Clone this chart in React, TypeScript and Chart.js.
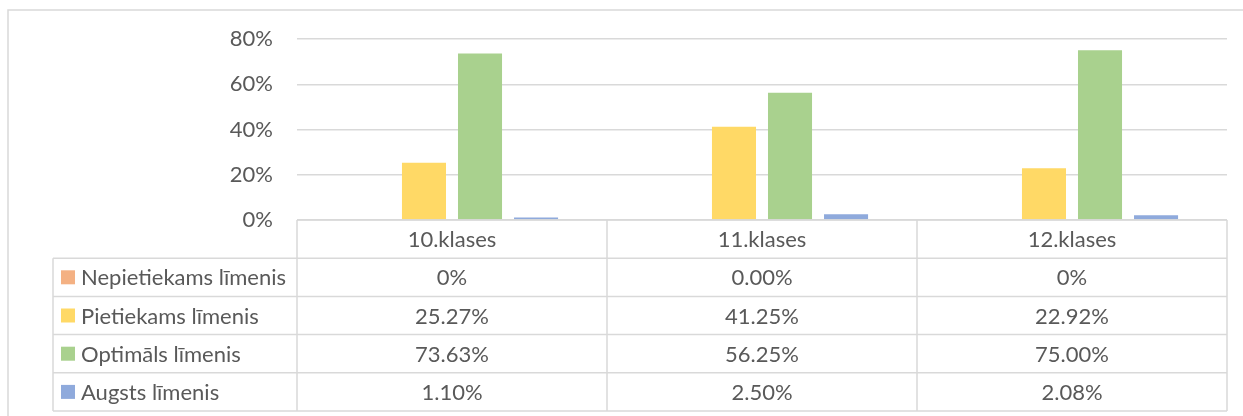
import React, { useEffect, useRef } from "react";
import { Chart, registerables } from "chart.js";

Chart.register(...registerables);

const categories = ["10.klases", "11.klases", "12.klases"];
const seriesNames = [
  "Nepietiekams līmenis",
  "Pietiekams līmenis",
  "Optimāls līmenis",
  "Augsts līmenis",
];
const seriesColors = ["#F4B183", "#FFD966", "#A9D18E", "#8FAADC"];

const nepietiekams = [0, 0, 0];
const pietiekams = [25.27, 41.25, 22.92];
const optimals = [73.63, 56.25, 75.0];
const augsts = [1.1, 2.5, 2.08];

const nepietiekamsLabels = ["0%", "0.00%", "0%"];
const pietiekamsLabels = ["25.27%", "41.25%", "22.92%"];
const optimalsLabels = ["73.63%", "56.25%", "75.00%"];
const augstsLabels = ["1.10%", "2.50%", "2.08%"];

const yTicks = [0, 20, 40, 60, 80];

const FONT_FAMILY = "Lato, 'Open Sans', sans-serif";
const FONT_SIZE = 22;
const TEXT_COLOR = "#595959";
const LINE_COLOR = "#d9d9d9";

const seriesValues = [nepietiekams, pietiekams, optimals, augsts];
const seriesLabels = [nepietiekamsLabels, pietiekamsLabels, optimalsLabels, augstsLabels];

const tablePlugin = {
  id: "dataTable",
  afterDraw(chart: any) {
    const ctx = chart.ctx as CanvasRenderingContext2D;
    const area = chart.chartArea;
    const xs = chart.scales.x;
    const n = categories.length;
    const half = (xs.getPixelForValue(1) - xs.getPixelForValue(0)) / 2;
    const bounds: number[] = [];
    for (let i = 0; i < n; i++) bounds.push(xs.getPixelForValue(i) - half);
    bounds.push(xs.getPixelForValue(n - 1) + half);

    const top = area.bottom;
    const rowH = 38.2;
    const legendLeft = 53;
    const rows = seriesNames.length;
    const bottom = top + rowH * (rows + 1);

    ctx.save();
    // outer chart border
    ctx.strokeStyle = LINE_COLOR;
    ctx.lineWidth = 1.5;
    ctx.beginPath();
    ctx.moveTo(8, chart.height + 5);
    ctx.lineTo(8, 10);
    ctx.lineTo(chart.width + 5, 10);
    ctx.stroke();

    // table lines
    ctx.lineWidth = 1.5;
    ctx.beginPath();
    ctx.moveTo(bounds[0], top);
    ctx.lineTo(bounds[n], top);
    for (let r = 1; r <= rows + 1; r++) {
      const y = top + rowH * r;
      ctx.moveTo(legendLeft, y);
      ctx.lineTo(bounds[n], y);
    }
    for (let i = 0; i <= n; i++) {
      ctx.moveTo(bounds[i], top);
      ctx.lineTo(bounds[i], bottom);
    }
    ctx.moveTo(legendLeft, top + rowH);
    ctx.lineTo(legendLeft, bottom);
    ctx.stroke();

    // text
    ctx.fillStyle = TEXT_COLOR;
    ctx.font = `${FONT_SIZE}px ${FONT_FAMILY}`;
    ctx.textBaseline = "middle";
    ctx.textAlign = "center";
    for (let i = 0; i < n; i++) {
      const cx = (bounds[i] + bounds[i + 1]) / 2;
      ctx.fillText(categories[i], cx, top + rowH / 2 + 1);
    }
    for (let r = 0; r < rows; r++) {
      const cy = top + rowH * (r + 1) + rowH / 2 + 1;
      for (let i = 0; i < n; i++) {
        const cx = (bounds[i] + bounds[i + 1]) / 2;
        ctx.textAlign = "center";
        ctx.fillText(seriesLabels[r][i], cx, cy);
      }
      ctx.fillStyle = seriesColors[r];
      ctx.fillRect(61, cy - 8, 14, 14);
      ctx.fillStyle = TEXT_COLOR;
      ctx.textAlign = "left";
      ctx.fillText(seriesNames[r], 81, cy);
    }
    ctx.restore();
  },
};

export default function App() {
  const ref = useRef<HTMLCanvasElement | null>(null);

  useEffect(() => {
    if (!ref.current) return;
    const chart = new Chart(ref.current, {
      type: "bar",
      data: {
        labels: categories,
        datasets: seriesNames.map((name, i) => ({
          label: name,
          data: seriesValues[i],
          backgroundColor: seriesColors[i],
          borderWidth: 0,
          categoryPercentage: 0.723,
          barPercentage: 0.786,
        })),
      },
      options: {
        animation: false,
        responsive: false,
        maintainAspectRatio: false,
        devicePixelRatio: 1,
        layout: { padding: { left: 0, top: 39, right: 16, bottom: 196 } },
        plugins: {
          legend: { display: false },
          tooltip: { enabled: false },
          title: { display: false },
        },
        scales: {
          x: { display: false },
          y: {
            min: 0,
            max: 80,
            afterFit(scale: any) {
              scale.width = 297;
            },
            afterBuildTicks(scale: any) {
              scale.ticks = yTicks.map((v) => ({ value: v }));
            },
            grid: { color: LINE_COLOR, lineWidth: 1.5, drawTicks: false },
            border: { display: false },
            ticks: {
              color: TEXT_COLOR,
              font: { family: FONT_FAMILY, size: FONT_SIZE },
              padding: 24,
              callback: (v: any) => `${v}%`,
            },
          },
        },
      },
      plugins: [tablePlugin],
    });
    return () => chart.destroy();
  }, []);

  return (
    <div style={{ position: "fixed", left: 0, top: 0, width: 1243, height: 416, background: "#fff" }}>
      <canvas ref={ref} width={1243} height={416} style={{ display: "block", width: 1243, height: 416 }} />
    </div>
  );
}
